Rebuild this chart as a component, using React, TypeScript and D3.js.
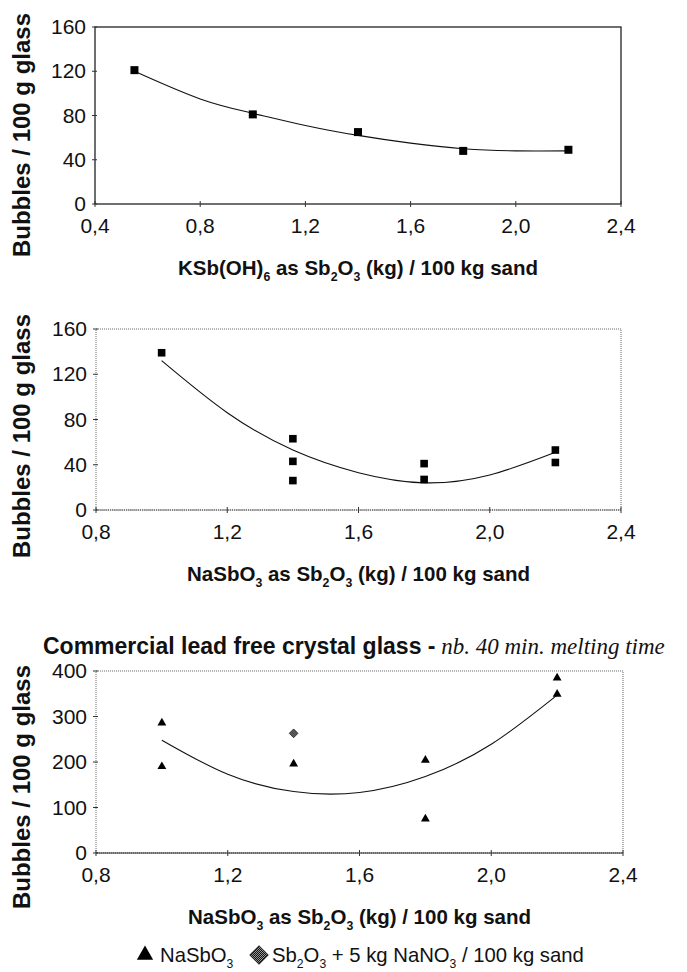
import { useRef, useEffect } from "react";
import * as d3 from "d3";

const W = 687;
const H = 972;

// --- panel 1: KSb(OH)6 ---
const P1_XTICKS = [0.4, 0.8, 1.2, 1.6, 2.0, 2.4];
const P1_YTICKS = [0, 40, 80, 120, 160];
const KSB_X = [0.55, 1.0, 1.4, 1.8, 2.2];
const KSB_Y = [121, 81, 65, 48, 49];
const KSB_TREND_X = [0.55, 0.8, 1.0, 1.2, 1.4, 1.6, 1.8, 2.0, 2.2];
const KSB_TREND_Y = [120, 95, 82, 71, 62, 55, 50, 48, 48];

// --- panel 2: NaSbO3 ---
const P2_XTICKS = [0.8, 1.2, 1.6, 2.0, 2.4];
const P2_YTICKS = [0, 40, 80, 120, 160];
const NASB_X = [1.0, 1.4, 1.4, 1.4, 1.8, 1.8, 2.2, 2.2];
const NASB_Y = [139, 63, 43, 26, 41, 27, 53, 42];
const NASB_TREND_X = [1.0, 1.2, 1.4, 1.6, 1.8, 2.0, 2.2];
const NASB_TREND_Y = [132, 86, 53, 33, 24, 31, 51];

// --- panel 3: commercial lead free crystal glass ---
const P3_XTICKS = [0.8, 1.2, 1.6, 2.0, 2.4];
const P3_YTICKS = [0, 100, 200, 300, 400];
const CRYSTAL_X = [1.0, 1.0, 1.4, 1.8, 1.8, 2.2, 2.2];
const CRYSTAL_Y = [286, 190, 196, 204, 75, 385, 349];
const NITRATE_X = [1.4];
const NITRATE_Y = [263];
const CRYSTAL_TREND_X = [1.0, 1.2, 1.4, 1.6, 1.8, 2.0, 2.2];
const CRYSTAL_TREND_Y = [248, 173, 135, 133, 168, 239, 347];

const Y_TITLE = "Bubbles / 100 g glass";
const X_TITLE_1 = [
  { t: "KSb(OH)" }, { t: "6", sub: true }, { t: " as Sb" }, { t: "2", sub: true },
  { t: "O" }, { t: "3", sub: true }, { t: " (kg) / 100 kg sand" },
];
const X_TITLE_2 = [
  { t: "NaSbO" }, { t: "3", sub: true }, { t: " as Sb" }, { t: "2", sub: true },
  { t: "O" }, { t: "3", sub: true }, { t: " (kg) / 100 kg sand" },
];
const LEGEND_1 = [{ t: "NaSbO" }, { t: "3", sub: true }];
const LEGEND_2 = [
  { t: "Sb" }, { t: "2", sub: true }, { t: "O" }, { t: "3", sub: true },
  { t: " + 5 kg NaNO" }, { t: "3", sub: true }, { t: " / 100 kg sand" },
];

type Part = { t: string; sub?: boolean };

const SANS = "'Liberation Sans', Arial, Helvetica, sans-serif";
const SERIF = "'Liberation Serif', 'Times New Roman', serif";

const comma = d3.formatLocale({
  decimal: ",",
  thousands: ".",
  grouping: [3],
  currency: ["", ""],
}).format(".1f");

function rich(text: any, parts: Part[], size: number) {
  const shift = size * 0.3;
  let low = false;
  parts.forEach((p) => {
    let dy = 0;
    if (p.sub && !low) dy = shift;
    if (!p.sub && low) dy = -shift;
    low = !!p.sub;
    text
      .append("tspan")
      .attr("dy", dy)
      .attr("font-size", p.sub ? size * 0.6 : size)
      .text(p.t);
  });
}

export default function App() {
  const svgRef = useRef<SVGSVGElement>(null);

  useEffect(() => {
    const svg = d3.select(svgRef.current);
    svg.selectAll("*").remove();

    const defs = svg.append("defs");
    const pat = defs
      .append("pattern")
      .attr("id", "checker")
      .attr("width", 2)
      .attr("height", 2)
      .attr("patternUnits", "userSpaceOnUse")
      .attr("patternTransform", "rotate(45)");
    pat.append("rect").attr("width", 2).attr("height", 2).attr("fill", "#9a9a9a");
    pat.append("rect").attr("width", 1).attr("height", 1).attr("fill", "#111");
    pat.append("rect").attr("x", 1).attr("y", 1).attr("width", 1).attr("height", 1).attr("fill", "#111");

    function panel(cfg: any) {
      const { left, right, top, bottom, xDomain, yDomain, xTicks, yTicks, dotted } = cfg;
      const x = d3.scaleLinear().domain(xDomain).range([left, right]);
      const y = d3.scaleLinear().domain(yDomain).range([bottom, top]);
      const g = svg.append("g");

      // frame
      if (dotted) {
        g.append("rect")
          .attr("x", left).attr("y", top)
          .attr("width", right - left).attr("height", bottom - top)
          .attr("fill", "none").attr("stroke", "#666")
          .attr("stroke-width", 1).attr("stroke-dasharray", "1,1");
        g.append("line")
          .attr("x1", left).attr("x2", right).attr("y1", bottom).attr("y2", bottom)
          .attr("stroke", cfg.solidBottom ? "#222" : "#555")
          .attr("stroke-width", cfg.solidBottom ? 1.2 : 1)
          .attr("stroke-dasharray", cfg.solidBottom ? null : "1.5,0.8");
      } else {
        g.append("rect")
          .attr("x", left).attr("y", top)
          .attr("width", right - left).attr("height", bottom - top)
          .attr("fill", "none").attr("stroke", "#222").attr("stroke-width", 1.3);
      }

      // ticks
      xTicks.forEach((v: number) => {
        g.append("line")
          .attr("x1", x(v)).attr("x2", x(v))
          .attr("y1", bottom - 3).attr("y2", bottom + 3)
          .attr("stroke", "#333").attr("stroke-width", 1);
        g.append("text")
          .attr("x", x(v)).attr("y", bottom + 29)
          .attr("text-anchor", "middle")
          .attr("font-family", SANS).attr("font-size", 21).attr("fill", "#111")
          .text(comma(v));
      });
      yTicks.forEach((v: number) => {
        g.append("line")
          .attr("x1", left - 3).attr("x2", left + 2)
          .attr("y1", y(v)).attr("y2", y(v))
          .attr("stroke", "#333").attr("stroke-width", 1);
        g.append("text")
          .attr("x", left - 9).attr("y", y(v))
          .attr("dy", "0.34em")
          .attr("text-anchor", "end")
          .attr("font-family", SANS).attr("font-size", 21).attr("fill", "#111")
          .text(v);
      });

      // axis titles
      g.append("text")
        .attr("transform", `translate(30,${cfg.yTitleMid}) rotate(-90)`)
        .attr("text-anchor", "middle")
        .attr("font-family", SANS).attr("font-weight", "bold")
        .attr("font-size", 24).attr("fill", "#111")
        .text(Y_TITLE);
      const xt = g.append("text")
        .attr("x", (left + right) / 2).attr("y", bottom + 71)
        .attr("text-anchor", "middle")
        .attr("font-family", SANS).attr("font-weight", "bold")
        .attr("fill", "#111");
      rich(xt, cfg.xTitle, 20.5);

      // trend line
      const tx: number[] = cfg.trendX;
      const ty: number[] = cfg.trendY;
      const line = d3
        .line<number>()
        .x((i) => x(tx[i]))
        .y((i) => y(ty[i]))
        .curve(d3.curveNatural);
      g.append("path")
        .attr("d", line(d3.range(tx.length)))
        .attr("fill", "none").attr("stroke", "#111").attr("stroke-width", 1.1);

      return { g, x, y };
    }

    // panel 1
    const p1 = panel({
      left: 95, right: 621, top: 27, bottom: 204,
      xDomain: [0.4, 2.4], yDomain: [0, 160],
      xTicks: P1_XTICKS, yTicks: P1_YTICKS, dotted: false,
      yTitleMid: 135, xTitle: X_TITLE_1,
      trendX: KSB_TREND_X, trendY: KSB_TREND_Y,
    });
    KSB_X.forEach((v, i) => {
      p1.g.append("rect")
        .attr("x", p1.x(v) - 4).attr("y", p1.y(KSB_Y[i]) - 4)
        .attr("width", 8).attr("height", 8).attr("fill", "#000");
    });

    // panel 2
    const p2 = panel({
      left: 96, right: 621, top: 329, bottom: 510,
      xDomain: [0.8, 2.4], yDomain: [0, 160],
      xTicks: P2_XTICKS, yTicks: P2_YTICKS, dotted: true, solidBottom: false,
      yTitleMid: 436, xTitle: X_TITLE_2,
      trendX: NASB_TREND_X, trendY: NASB_TREND_Y,
    });
    NASB_X.forEach((v, i) => {
      p2.g.append("rect")
        .attr("x", p2.x(v) - 3.8).attr("y", p2.y(NASB_Y[i]) - 3.8)
        .attr("width", 7.6).attr("height", 7.6).attr("fill", "#000");
    });

    // panel 3
    const p3 = panel({
      left: 96, right: 623, top: 671, bottom: 853,
      xDomain: [0.8, 2.4], yDomain: [0, 400],
      xTicks: P3_XTICKS, yTicks: P3_YTICKS, dotted: true, solidBottom: true,
      yTitleMid: 787, xTitle: X_TITLE_2,
      trendX: CRYSTAL_TREND_X, trendY: CRYSTAL_TREND_Y,
    });
    const tri = d3.symbol().type(d3.symbolTriangle).size(34);
    CRYSTAL_X.forEach((v, i) => {
      p3.g.append("path")
        .attr("d", tri())
        .attr("transform", `translate(${p3.x(v)},${p3.y(CRYSTAL_Y[i])})`)
        .attr("fill", "#000");
    });
    const dia = d3.symbol().type(d3.symbolSquare).size(38);
    NITRATE_X.forEach((v, i) => {
      p3.g.append("path")
        .attr("d", dia())
        .attr("transform", `translate(${p3.x(v)},${p3.y(NITRATE_Y[i])}) rotate(45)`)
        .attr("fill", "url(#checker)").attr("stroke", "#222").attr("stroke-width", 0.8);
    });

    // panel 3 title
    const title = svg.append("text")
      .attr("x", 43).attr("y", 654)
      .attr("font-family", SANS).attr("fill", "#111");
    title.append("tspan").attr("font-weight", "bold").attr("font-size", 23)
      .text("Commercial lead free crystal glass -");
    title.append("tspan").attr("font-family", SERIF).attr("font-style", "italic")
      .attr("font-size", 23).text(" nb. 40 min. melting time");

    // legend
    const ly = 962;
    svg.append("path")
      .attr("d", d3.symbol().type(d3.symbolTriangle).size(115)())
      .attr("transform", `translate(145,${ly - 7})`)
      .attr("fill", "#000");
    const l1 = svg.append("text").attr("x", 160).attr("y", ly)
      .attr("font-family", SANS).attr("fill", "#111");
    rich(l1, LEGEND_1, 20.3);
    svg.append("path")
      .attr("d", d3.symbol().type(d3.symbolSquare).size(165)())
      .attr("transform", `translate(259,${ly - 7}) rotate(45)`)
      .attr("fill", "url(#checker)").attr("stroke", "#222").attr("stroke-width", 1);
    const l2 = svg.append("text").attr("x", 272).attr("y", ly)
      .attr("font-family", SANS).attr("fill", "#111");
    rich(l2, LEGEND_2, 20.3);
  }, []);

  return (
    <div style={{ position: "absolute", left: 0, top: 0, width: W, height: H, background: "#fff" }}>
      <svg ref={svgRef} width={W} height={H} />
    </div>
  );
}
